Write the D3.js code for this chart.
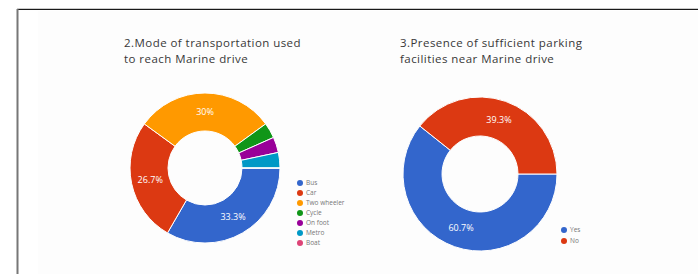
<!DOCTYPE html>
<html><head><meta charset="utf-8">
<script src="https://cdn.jsdelivr.net/npm/d3@7"></script>
<style>html,body{margin:0;padding:0;background:#fff;}svg{display:block;}</style>
</head><body>
<script>
// Data
const modeCategories = ["Bus", "Car", "Two wheeler", "Cycle", "On foot", "Metro", "Boat"];
const modeValues = [10, 8, 9, 1, 1, 1, 0];
const modeLabels = ["33.3%", "26.7%", "30%", "", "", "", ""];
const parkingCategories = ["Yes", "No"];
const parkingValues = [17, 11];
const parkingLabels = ["60.7%", "39.3%"];
const palette = ["#3366cc", "#dc3912", "#ff9900", "#109618", "#990099", "#0099c6", "#dd4477"];

const W = 698, H = 274;
const svg = d3.select("body").append("svg").attr("width", W).attr("height", H);
svg.append("rect").attr("width", W).attr("height", H).attr("fill", "#fff");
svg.append("rect").attr("x", 38).attr("y", 11).attr("width", W - 38).attr("height", H - 11).attr("fill", "#fdfdfd");
// frame
svg.append("line").attr("x1", 17).attr("x2", W).attr("y1", 8.5).attr("y2", 8.5).attr("stroke", "#ccc").attr("stroke-width", 1);
svg.append("line").attr("x1", 17).attr("x2", W).attr("y1", 9.5).attr("y2", 9.5).attr("stroke", "#1a1a1a").attr("stroke-width", 1.2);
svg.append("line").attr("x1", 17.5).attr("x2", 17.5).attr("y1", 9).attr("y2", H).attr("stroke", "#777").attr("stroke-width", 2);

const font = "'Open Sans', 'Liberation Sans', sans-serif";

function donut(opts) {
  const g = svg.append("g").attr("transform", `translate(${opts.cx},${opts.cy})`);
  const pie = d3.pie().sort(null).startAngle(Math.PI / 2).endAngle(Math.PI / 2 + 2 * Math.PI);
  const arcs = pie(opts.values);
  const arc = d3.arc().innerRadius(opts.ri).outerRadius(opts.ro);
  const labelArc = d3.arc().innerRadius((opts.ri + opts.ro) / 2).outerRadius((opts.ri + opts.ro) / 2);
  g.selectAll("path").data(arcs).join("path")
    .attr("d", arc).attr("fill", (d, i) => palette[i])
    .attr("stroke", "#fff").attr("stroke-width", 1);
  g.selectAll("text").data(arcs).join("text")
    .attr("transform", d => `translate(${labelArc.centroid(d)})`)
    .attr("text-anchor", "middle").attr("dy", "0.35em")
    .attr("fill", "#fff").attr("font-family", font).attr("font-size", 9)
    .text((d, i) => opts.labels[i]);
  // title (two separate lines)
  opts.title.forEach((line, i) => svg.append("text")
    .attr("x", opts.tx).attr("y", opts.ty + i * 16)
    .attr("font-family", font).attr("font-size", 11.5).attr("letter-spacing", 0.45)
    .attr("fill", "#383838").text(line));
  // legend
  const lg = svg.append("g");
  opts.cats.forEach((c, i) => {
    const y = opts.ly + i * opts.lstep;
    lg.append("circle").attr("cx", opts.lx).attr("cy", y).attr("r", 3).attr("fill", palette[i]);
    lg.append("text").attr("x", opts.lx + 6).attr("y", y).attr("dy", "0.35em")
      .attr("font-family", font).attr("font-size", 6.5).attr("fill", "#777").text(c);
  });
}

donut({cx: 205, cy: 168, ro: 75, ri: 37, values: modeValues, labels: modeLabels, cats: modeCategories,
  title: ["2.Mode of transportation used", "to reach Marine drive"], tx: 124, ty: 47,
  lx: 300, ly: 183, lstep: 10});
donut({cx: 480, cy: 174, ro: 77, ri: 38, values: parkingValues, labels: parkingLabels, cats: parkingCategories,
  title: ["3.Presence of sufficient parking", "facilities near Marine drive"], tx: 400, ty: 47,
  lx: 564, ly: 230, lstep: 11});
</script>
</body></html>
